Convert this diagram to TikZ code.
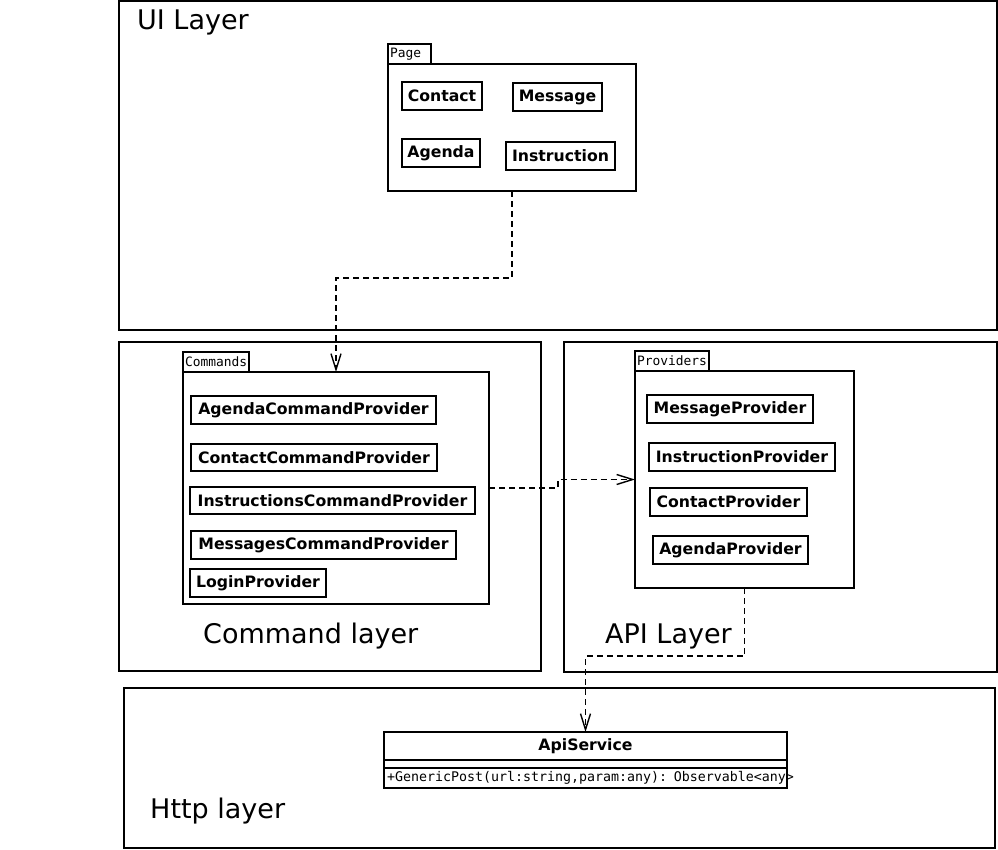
\documentclass[tikz,border=0pt]{standalone}
\usepackage{fontspec}
\setmainfont{DejaVu Sans}
\newfontfamily\monofont{DejaVu Sans Mono}
\usetikzlibrary{arrows.meta}
\usetikzlibrary{positioning}
\tikzset {
  % big boxes for the layers
  layer/.style = {
    draw = black,
    line width = 1.3pt,
    anchor = north west,
    inner sep = 0,
    outer sep = 0
  },
  layer label/.style = {
    anchor = base west,
    inner sep = 0,
    font = \fontsize{27}{32}\selectfont
  },
  % package tab and body
  pkg tab/.style = {
    draw = black,
    line width = 1.3pt,
    anchor = north west,
    inner xsep = 2pt,
    inner ysep = 0,
    outer sep = 0,
    minimum height = 20pt,
    align = left,
    font = \monofont\fontsize{12.9}{15}\selectfont
  },
  pkg body/.style = {
    layer
  },
  % class symbol
  cls/.style = {
    draw = black,
    line width = 1.5pt,
    anchor = north west,
    inner sep = 0,
    outer sep = 0,
    minimum height = 28pt,
    font = \bfseries\fontsize{15.7}{18}\selectfont
  },
  cls part/.style = {
    draw = black,
    line width = 1.5pt,
    inner xsep = 3pt,
    inner ysep = 0,
    outer sep = 0,
    minimum width = 403pt,
    align = left,
    font = \monofont\fontsize{13.3}{15}\selectfont
  },
  % dependency
  dep/.style = {
    draw = black,
    line width = 1.3pt,
    dash pattern = on 6pt off 4pt,
    -{Straight Barb[length=16pt, width=10pt, line width=1.4pt]}
  },
  node distance = 0pt
}
\begin{document}
\begin{tikzpicture}[x=1pt, y=-1pt]
    \useasboundingbox (0,0) rectangle (998,849);

    % layers
    \node[layer, minimum width=878, minimum height=329] (ui) at (119,1) {};
    \node[layer, minimum width=422, minimum height=329] (cmdlayer) at (119,342) {};
    \node[layer, minimum width=433, minimum height=330] (apilayer) at (564,342) {};
    \node[layer, minimum width=871, minimum height=160] (http) at (124,688) {};
    \node[layer label] (ui-label) at (137,29) {UI Layer};
    \node[layer label] (cmd-label) at (203,643) {Command layer};
    \node[layer label] (api-label) at (605,643) {API Layer};
    \node[layer label] (http-label) at (150,818) {Http layer};

    % Page package
    \node[pkg tab, text width=39] (page-tab) at (388,44) {Page};
    \node[pkg body, minimum width=248, minimum height=127] (page) at (388,64) {};
    \node[cls, minimum width=80] (contact) at (402,82) {Contact};
    \node[cls, minimum width=89] (message) at (513,83) {Message};
    \node[cls, minimum width=78] (agenda) at (402,139) {Agenda};
    \node[cls, minimum width=109] (instruction) at (506,142) {Instruction};

    % Commands package
    \node[pkg tab, text width=62] (cmds-tab) at (183,352) {Commands};
    \node[pkg body, minimum width=306, minimum height=232] (cmds) at (183,372) {};
    \node[cls, minimum width=245] (agenda-cmd) at (191,396) {AgendaCommandProvider};
    \node[cls, minimum width=246, minimum height=27] (contact-cmd) at (191,444) {ContactCommandProvider};
    \node[cls, minimum width=285, minimum height=27] (instr-cmd) at (190,487) {InstructionsCommandProvider};
    \node[cls, minimum width=265] (msg-cmd) at (191,531) {MessagesCommandProvider};
    \node[cls, minimum width=136] (login) at (190,569) {LoginProvider};

    % Providers package
    \node[pkg tab, text width=70] (provs-tab) at (635,351) {Providers};
    \node[pkg body, minimum width=219, minimum height=217] (provs) at (635,371) {};
    \node[cls, minimum width=166] (msg-prov) at (647,395) {MessageProvider};
    \node[cls, minimum width=186] (instr-prov) at (649,443) {InstructionProvider};
    \node[cls, minimum width=157] (contact-prov) at (650,488) {ContactProvider};
    \node[cls, minimum width=155] (agenda-prov) at (653,536) {AgendaProvider};

    % ApiService class
    \node[cls, minimum width=403] (api) at (384,732) {ApiService};
    \node[cls part, minimum height=8, below=of api] (api-attr) {};
    \node[cls part, minimum height=20, text width=397, below=of api-attr] (api-op)
      {\mbox{+GenericPost(url:string,param:any): Observable<any>}};

    \draw[dep] (page.south)
    -- ++(0,87)
    -| (cmds.north);

    \draw[dep] (cmds.east)
    -- ++(69,0)
    |- (provs.west);

    \draw[dep] (provs.south)
    -- ++(0,68)
    -| (api.north);
  \end{tikzpicture}
\end{document}
